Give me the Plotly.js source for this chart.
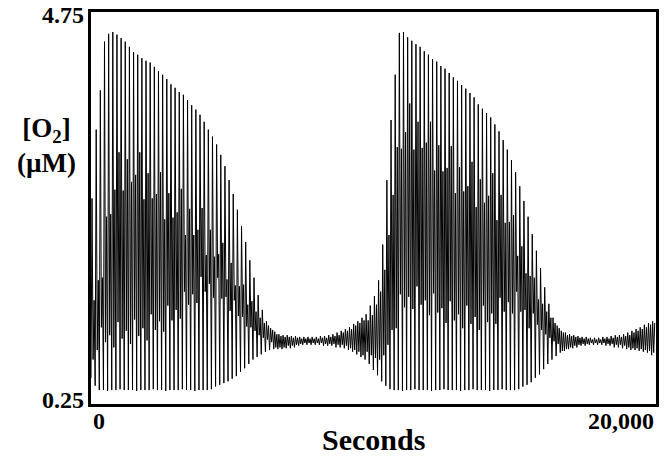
<!DOCTYPE html>
<html><head><meta charset="utf-8">
<script src="https://cdn.plot.ly/plotly-3.0.1.min.js"></script>
<style>html,body{margin:0;padding:0;background:#fff}#chart{width:670px;height:458px}</style>
</head><body><div id="chart"></div>
<script>
// seconds between successive extrema of the recorded trace
const sampleStep = 36.75;

// per-cycle extrema of [O2] (µM)
const lowerTroughs = [
0.55,0.46,0.41,0.41,0.40,0.41,0.41,0.42,0.41,0.41,
0.41,0.40,0.41,0.41,0.41,0.42,0.41,0.41,0.40,0.41,
0.41,0.41,0.42,0.41,0.41,0.40,0.41,0.41,0.41,0.42,
0.45,0.47,0.49,0.51,0.54,0.57,0.62,0.66,0.71,0.76,
0.79,0.82,0.85,0.87,0.88,0.88,0.88,0.89,0.89,0.90,
0.92,0.93,0.93,0.93,0.93,0.93,0.92,0.92,0.92,0.90,
0.90,0.89,0.87,0.85,0.82,0.79,0.76,0.71,0.64,0.58,
0.51,0.46,0.42,0.41,0.41,0.40,0.41,0.41,0.42,0.41,
0.41,0.41,0.40,0.41,0.41,0.42,0.41,0.41,0.41,0.40,
0.41,0.41,0.42,0.41,0.41,0.41,0.40,0.41,0.41,0.42,
0.41,0.41,0.41,0.42,0.45,0.47,0.50,0.55,0.59,0.65,
0.71,0.76,0.80,0.84,0.86,0.88,0.89,0.90,0.92,0.92,
0.93,0.93,0.93,0.93,0.92,0.92,0.90,0.90,0.89,0.88,
0.87,0.87,0.86,0.85,0.84,0.81];
const upperPeaks = [
2.61,3.40,3.85,4.41,4.50,4.52,4.49,4.45,4.41,4.35,
4.29,4.26,4.22,4.19,4.17,4.12,4.07,4.03,3.98,3.92,
3.88,3.83,3.80,3.74,3.68,3.63,3.57,3.49,3.40,3.32,
3.23,3.11,2.98,2.82,2.66,2.48,2.29,2.11,1.90,1.70,
1.50,1.33,1.20,1.12,1.08,1.05,1.04,1.04,1.03,1.03,
1.02,1.02,1.02,1.02,1.02,1.03,1.03,1.04,1.05,1.07,
1.09,1.11,1.13,1.17,1.20,1.24,1.28,1.38,1.49,1.67,
2.08,2.82,3.51,4.03,4.51,4.52,4.46,4.42,4.38,4.35,
4.30,4.26,4.21,4.18,4.13,4.10,4.05,4.00,3.96,3.91,
3.87,3.82,3.77,3.69,3.64,3.59,3.54,3.46,3.38,3.28,
3.17,3.05,2.91,2.75,2.58,2.40,2.20,2.01,1.81,1.59,
1.40,1.24,1.15,1.09,1.07,1.05,1.04,1.03,1.02,1.02,
1.01,1.01,1.01,1.02,1.02,1.03,1.04,1.04,1.05,1.07,
1.09,1.11,1.13,1.16,1.18,1.20];
const innerTroughs = [
0.76,0.87,1.13,0.96,1.04,0.90,1.19,1.00,1.09,0.94,
1.22,1.03,1.12,0.98,1.28,1.10,1.20,1.08,1.38,1.21,
1.33,1.23,1.54,1.39,1.51,1.41,1.71,1.54,1.63,1.47,
1.70,1.46,1.48,1.32,1.44,1.26,1.25,1.14,1.13,1.09,
1.04,1.01,0.99,0.96,0.90,0.90,0.90,0.92,0.92,0.93,
0.94,0.95,0.95,0.95,0.95,0.95,0.94,0.94,0.94,0.93,
0.93,0.92,0.89,0.87,0.85,0.81,0.85,0.81,0.78,0.76,
0.81,0.93,1.10,1.12,1.51,1.36,1.48,1.34,1.60,1.39,
1.44,1.27,1.52,1.30,1.35,1.18,1.43,1.21,1.28,1.12,
1.38,1.17,1.25,1.10,1.38,1.19,1.29,1.17,1.47,1.31,
1.42,1.29,1.54,1.31,1.33,1.12,1.29,1.16,1.10,1.05,
1.01,0.97,0.94,0.86,0.88,0.90,0.92,0.93,0.94,0.94,
0.95,0.95,0.95,0.95,0.94,0.94,0.93,0.93,0.92,0.90,
0.89,0.89,0.88,0.87,0.86,0.84];
const innerPeaks = [
1.44,1.67,1.70,2.40,2.43,2.71,3.14,2.70,3.06,2.80,
2.88,3.14,2.60,2.90,2.61,2.66,2.91,2.37,2.67,2.39,
2.45,2.72,2.19,2.49,2.19,2.25,2.50,1.96,2.25,1.94,
1.97,2.10,1.68,1.87,1.61,1.60,1.62,1.39,1.43,1.31,
1.24,1.18,1.15,1.10,1.05,1.03,1.02,1.02,1.01,1.01,
1.00,1.00,1.00,1.00,1.00,1.01,1.01,1.02,1.03,1.04,
1.07,1.09,1.11,1.15,1.18,1.21,1.21,1.27,1.39,1.54,
1.79,2.19,2.65,3.20,3.18,3.37,3.70,3.17,3.49,3.19,
3.25,3.49,2.93,3.22,2.92,2.96,3.21,2.67,2.97,2.69,
2.75,3.03,2.51,2.83,2.56,2.64,2.90,2.36,2.65,2.33,
2.34,2.42,1.95,2.06,1.75,1.72,1.70,1.45,1.40,1.31,
1.24,1.18,1.12,1.07,1.04,1.03,1.02,1.01,1.00,1.00,
0.99,0.99,0.99,1.00,1.00,1.01,1.02,1.02,1.03,1.04,
1.07,1.09,1.11,1.13,1.16,1.18];

const xTickVals = [0, 20000];
const xTickText = ['0', '20,000'];
const yTickVals = [0.25, 4.75];
const yTickText = ['0.25', '4.75'];
const xRange = [0, 20000];
const yRange = [0.25, 4.75];

// assemble the trace: each cycle = trough, peak, inner trough, inner peak
const t = [], o2 = [];
for (let k = 0; k < upperPeaks.length; k++) {
  const seq = [lowerTroughs[k], upperPeaks[k], innerTroughs[k], innerPeaks[k]];
  for (let j = 0; j < 4; j++) { t.push((4 * k + j) * sampleStep); o2.push(seq[j]); }
}

const serif = '"Liberation Serif", "Times New Roman", serif';
const tickFont = {family: serif, size: 24, color: '#000', weight: 'bold'};
const trace = {
  x: t, y: o2, type: 'scatter', mode: 'lines',
  line: {color: '#000', width: 1}, hoverinfo: 'skip'
};

const annotations = [
  {xref: 'x', yref: 'paper', x: xTickVals[0], y: 0, xanchor: 'left', yanchor: 'middle', yshift: -17,
   text: xTickText[0], showarrow: false, font: tickFont},
  {xref: 'x', yref: 'paper', x: xTickVals[1], y: 0, xanchor: 'right', yanchor: 'middle', yshift: -17,
   text: xTickText[1], showarrow: false, font: tickFont},
  {xref: 'paper', yref: 'y', x: 0, y: yTickVals[0], xanchor: 'right', yanchor: 'middle', xshift: -5, yshift: 4,
   text: yTickText[0], showarrow: false, font: tickFont},
  {xref: 'paper', yref: 'y', x: 0, y: yTickVals[1], xanchor: 'right', yanchor: 'middle', xshift: -5, yshift: -3,
   text: yTickText[1], showarrow: false, font: tickFont},
  {xref: 'paper', yref: 'paper', x: 0.5, y: 0, xanchor: 'center', yanchor: 'middle', yshift: -35,
   text: '<b>Seconds</b>', showarrow: false, font: {family: serif, size: 30, color: '#000'}},
  {xref: 'paper', yref: 'paper', x: -0.078, y: 0.66, xanchor: 'center', yanchor: 'middle',
   text: '<b>[O<sub>2</sub>]</b><br><b>(µM)</b>', showarrow: false,
   font: {family: serif, size: 27, color: '#000'}}
];

const layout = {
  width: 670, height: 458,
  margin: {l: 91, r: 14, t: 12, b: 54},
  paper_bgcolor: '#fff', plot_bgcolor: '#fff',
  showlegend: false,
  xaxis: {
    range: xRange, showgrid: false, zeroline: false,
    showline: true, mirror: true, linecolor: '#000', linewidth: 3,
    ticks: '', showticklabels: false, fixedrange: true
  },
  yaxis: {
    range: yRange, showgrid: false, zeroline: false,
    showline: true, mirror: true, linecolor: '#000', linewidth: 3,
    ticks: '', showticklabels: false, fixedrange: true
  },
  annotations: annotations
};

Plotly.newPlot('chart', [trace], layout, {displayModeBar: false, staticPlot: true});
</script>
</body></html>
